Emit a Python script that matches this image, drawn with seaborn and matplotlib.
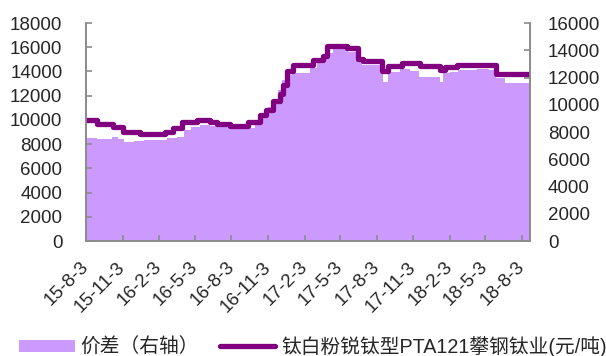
import matplotlib
matplotlib.use("Agg")
import matplotlib.pyplot as plt
import pandas as pd
import seaborn as sns

# 钛白粉锐钛型PTA121攀钢钛业 price (left axis, 元/吨), value from each change date
price_dates = [
    "2015-08-03", "2015-08-30", "2015-10-11", "2015-11-05", "2015-12-17",
    "2016-02-18", "2016-03-10", "2016-03-31", "2016-05-07", "2016-06-10",
    "2016-06-27", "2016-07-30", "2016-09-14", "2016-10-14", "2016-10-30",
    "2016-11-16", "2016-12-03", "2016-12-11", "2016-12-20", "2017-01-05",
    "2017-02-24", "2017-03-21", "2017-03-31", "2017-05-20", "2017-06-17",
    "2017-06-30", "2017-08-16", "2017-09-01", "2017-10-06", "2017-11-20",
    "2018-01-09", "2018-01-22", "2018-02-21", "2018-05-30", "2018-08-24",
]
price_values = [
    10000, 9650, 9400, 9000, 8800,
    9000, 9300, 9800, 9950, 9800,
    9650, 9500, 9800, 10400, 10800,
    11600, 12100, 12900, 14000, 14500,
    14950, 15250, 16100, 15950, 15000,
    14850, 14000, 14450, 14700, 14450,
    14150, 14350, 14550, 13750, 13750,
]

# 价差 (right axis), value from each change date
spread_dates = [
    "2015-08-03", "2015-08-31", "2015-10-07", "2015-10-22", "2015-11-06",
    "2015-12-01", "2015-12-26", "2016-01-21", "2016-02-22", "2016-03-18",
    "2016-04-05", "2016-04-23", "2016-05-15", "2016-06-09", "2016-08-11",
    "2016-09-18", "2016-10-01", "2016-10-18", "2016-11-02", "2016-11-15",
    "2016-11-28", "2016-12-08", "2016-12-18", "2017-01-02", "2017-02-16",
    "2017-03-06", "2017-03-21", "2017-03-31", "2017-04-15", "2017-05-22",
    "2017-06-14", "2017-06-27", "2017-08-11", "2017-08-19", "2017-08-31",
    "2017-09-30", "2017-10-25", "2017-11-19", "2018-01-09", "2018-01-16",
    "2018-02-03", "2018-02-23", "2018-04-12", "2018-05-14", "2018-05-31",
    "2018-06-21", "2018-08-24",
]
spread_values = [
    7550, 7460, 7610, 7460, 7290,
    7340, 7380, 7410, 7540, 7650,
    8150, 8390, 8510, 8420, 8250,
    8300, 8640, 9250, 9860, 10350,
    11080, 11820, 12180, 12310, 12670,
    13040, 13410, 13780, 14140, 13900,
    13200, 12900, 12300, 11690, 12430,
    12600, 12480, 12060, 11690, 12310,
    12430, 12550, 12620, 12550, 11940,
    11620, 11620,
]

tick_dates = [
    "2015-08-03", "2015-11-03", "2016-02-03", "2016-05-03", "2016-08-03",
    "2016-11-03", "2017-02-03", "2017-05-03", "2017-08-03", "2017-11-03",
    "2018-02-03", "2018-05-03", "2018-08-03",
]
tick_labels = [
    "15-8-3", "15-11-3", "16-2-3", "16-5-3", "16-8-3", "16-11-3", "17-2-3",
    "17-5-3", "17-8-3", "17-11-3", "18-2-3", "18-5-3", "18-8-3",
]

price_name = "钛白粉锐钛型PTA121攀钢钛业(元/吨)"
spread_name = "价差（右轴）"

sns.set_theme(style="white")
plt.rcParams["font.family"] = ["Liberation Sans", "Noto Sans CJK SC"]

LINE = "#800080"
AREA = "#CC99FF"
AXIS = "#8C8C8C"
FS = 13.5

price_df = pd.DataFrame({"date": pd.to_datetime(price_dates), "price": price_values})
spread_df = pd.DataFrame({"date": pd.to_datetime(spread_dates), "spread": spread_values})

fig = plt.figure(figsize=(6.06, 3.56), dpi=100)
ax = fig.add_axes([86 / 606, 1 - 241 / 356, (530 - 86) / 606, (241 - 23) / 356])
ax2 = ax.twinx()

# spread area on the right axis
ax2.fill_between(spread_df["date"], spread_df["spread"], step="post",
                 color=AREA, linewidth=0, label=spread_name)

# price line on the left axis, drawn above the area
sns.lineplot(data=price_df, x="date", y="price", ax=ax, drawstyle="steps-post",
             color=LINE, linewidth=3.8, label=price_name)
ax.set_zorder(ax2.get_zorder() + 1)
ax.patch.set_visible(False)

ax.set_xlim(price_df["date"].iloc[0], price_df["date"].iloc[-1])
ax.set_ylim(0, 18000)
ax2.set_ylim(0, 16000)
ax.set_yticks(range(0, 18001, 2000))
ax2.set_yticks(range(0, 16001, 2000))
ax.set_xticks(pd.to_datetime(tick_dates))
ax.set_xticklabels(tick_labels, rotation=45, ha="right", va="center",
                   rotation_mode="anchor")
ax.set_xlabel("")
ax.set_ylabel("")
ax2.set_ylabel("")

for a in (ax, ax2):
    for side in ("left", "right", "bottom"):
        a.spines[side].set_color(AXIS)
        a.spines[side].set_linewidth(1.3)
    a.spines["top"].set_visible(False)

ax.tick_params(axis="y", direction="in", length=4, width=1.2, color=AXIS,
               labelsize=FS, pad=17, left=True)
ax.tick_params(axis="x", direction="in", length=4, width=1.2, color=AXIS,
               labelsize=FS, pad=17, bottom=True)
ax2.tick_params(axis="y", direction="in", length=4, width=1.2, color=AXIS,
                labelsize=FS, pad=13, right=True)

if ax.get_legend() is not None:
    ax.get_legend().remove()
h2, l2 = ax2.get_legend_handles_labels()
h1, l1 = ax.get_legend_handles_labels()
fig.legend(h2 + h1, l2 + l1, loc="center", bbox_to_anchor=(0.5165, 0.027),
           ncol=2, frameon=False, fontsize=14.2, handlelength=2.8,
           handleheight=0.62, handletextpad=0.3, columnspacing=1.05,
           borderaxespad=0, borderpad=0)

fig.savefig("out.png", dpi=100)
